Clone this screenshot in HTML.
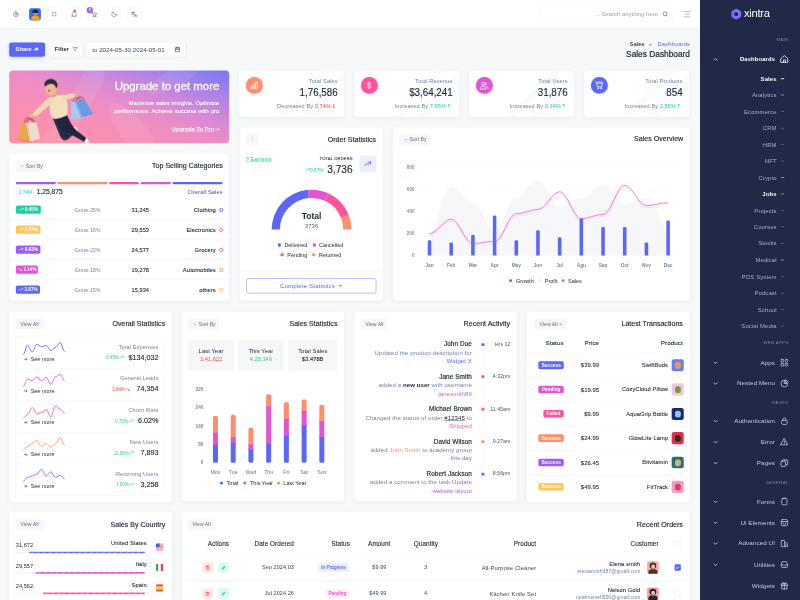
<!DOCTYPE html>
<html lang="en" dir="rtl">
<head>
<meta charset="utf-8">
<title>Sales Dashboard</title>
<style>
*{box-sizing:border-box}
html,body{margin:0;padding:0}
body{width:800px;height:600px;overflow:hidden;position:relative;background:#f7f8fa;font-family:"Liberation Sans",sans-serif}
#app{position:absolute;left:0;top:0;width:1920px;height:1440px;transform:scale(.4166667);transform-origin:0 0;background:#f7f8fa;color:#212b37;font-size:13.5px;line-height:1.5;overflow:hidden}
a{color:inherit;text-decoration:none}
.muted{color:#6e829f}
/* sidebar */
#side{position:absolute;right:0;top:0;width:240px;height:1440px;background:#202947;color:#a3aed1}
#side .logo{height:68px;border-bottom:1px solid rgba(255,255,255,.07);display:flex;align-items:center;justify-content:center;direction:ltr;gap:5px;padding-left:0px}
#side .logo b{font-weight:400;font-size:27px;color:#fff;letter-spacing:-.7px;line-height:1;position:relative;top:-2px}
.cat{position:absolute;right:28px;font-size:10.2px;letter-spacing:1px;color:#7b86a6;font-weight:400;line-height:12px;margin-right:-1px}
.mi{position:absolute;right:0;left:0;height:20px;line-height:20px;font-size:15px;letter-spacing:.2px;color:#c3cbe2}
.mi .t{position:absolute;right:60px;white-space:nowrap}
.mi svg.ic{position:absolute;right:26.5px;top:-1.5px;width:23px;height:23px;fill:none;stroke:#c3cbe2;stroke-width:1.6;stroke-linecap:round;stroke-linejoin:round}
.mi svg.ch{position:absolute;left:32px;top:5px;width:11px;height:11px;fill:none;stroke:#c3cbe2;stroke-width:2;stroke-linecap:round;stroke-linejoin:round}
.mi.on{color:#fff;font-weight:700;font-size:14.2px;margin-top:1.2px}
.mi.on svg.ic{stroke:#fff}
.si{position:absolute;right:0;left:0;height:18px;line-height:18px;font-size:14.2px;letter-spacing:.3px;color:#a3aed1;margin-top:.7px}
.si .t{position:absolute;right:56px;white-space:nowrap}
.si i{position:absolute;right:38.5px;top:8.4px;width:8px;height:1.2px;background:#8e9abf}
.si.on{color:#fff;font-weight:700}
.si.on i{background:#fff}
/* header */
#hdr{position:absolute;left:0;top:0;width:1680px;height:67.5px;background:#fff;border-bottom:1px solid #e9ebf3;box-shadow:0 2px 5px rgba(20,30,60,.035)}
.hb{position:absolute;top:18px;width:32px;height:32px;border:1px solid #e9edf6;border-radius:5px;background:#fff}
.hb svg{position:absolute;left:7px;top:7px;width:16px;height:16px;fill:none;stroke:#61748f;stroke-width:1.4;stroke-linecap:round;stroke-linejoin:round}
#search{position:absolute;left:1296px;top:16px;width:321px;height:36px;border:1px solid #e9edf6;border-radius:6px;background:#fff;font-size:14px;letter-spacing:.1px;color:#97a2b8;line-height:34px;padding:0 37px 0 0}
#search svg{position:absolute;right:12px;top:10px;width:14px;height:14px;fill:none;stroke:#5b6b89;stroke-width:1.8}
/* cards */
.card{position:absolute;background:#fff;border-radius:9px;box-shadow:0 3px 10px rgba(30,40,70,.045)}
.ct{position:absolute;right:20px;top:19px;font-size:17px;font-weight:400;color:#212b37;line-height:24px;white-space:nowrap;-webkit-text-stroke:.35px #212b37}
.btnl{position:absolute;text-align:center;background:#f6f7f9;border-radius:4px;font-size:12.3px;letter-spacing:.1px;color:#5f6e88;white-space:nowrap}
.sec{position:absolute}
.x{position:absolute;white-space:nowrap;letter-spacing:.3px}
.b{position:absolute}
.chv{width:10px;height:10px;fill:none;stroke:#6e829f;stroke-width:1.2;margin-left:3px;margin-right:4px;vertical-align:-1px}
.tr{width:12px;height:9px;fill:none;stroke:currentColor;stroke-width:1.6;vertical-align:0}
.tr.w{stroke:#fff}
</style>
</head>
<body>
<div id="app">

<!-- ===== HEADER ===== -->
<div id="hdr">
 <div class="hb" style="left:22px"><svg viewBox="0 0 16 16"><circle cx="8" cy="8" r="2.2"/><path d="M8 1.6l1.2 1.5 1.9-.4.6 1.8 1.8.6-.4 1.9L14.4 8l-1.3 1.2.4 1.9-1.8.6-.6 1.8-1.9-.4L8 14.4l-1.2-1.3-1.9.4-.6-1.8-1.8-.6.4-1.9L1.6 8l1.3-1.2-.4-1.9 1.8-.6.6-1.8 1.9.4z"/></svg></div>
 <div class="hb" id="avatar" style="left:70px;top:19.5px;width:28px;height:29px;border:0;background:#2f6df6;overflow:hidden"><span style="position:absolute;left:9px;top:5px;width:12px;height:13px;border-radius:50%;background:#c98a5a"></span><span style="position:absolute;left:8px;top:3px;width:14px;height:8px;border-radius:7px 7px 2px 2px;background:#23252f"></span><span style="position:absolute;left:5px;top:18px;width:20px;height:14px;border-radius:8px 8px 0 0;background:#f4a21c"></span></div>
 <div class="hb" style="left:114px"><svg viewBox="0 0 16 16"><path d="M4 6.300V4h2.300M9.700 4H12v2.300M12 9.700V12H9.700M6.300 12H4V9.700"/></svg></div>
 <div class="hb" style="left:162px"><svg viewBox="0 0 16 16"><path d="M3.5 11.5V7a4.5 4.5 0 019 0v4.5l1 1.2h-11zM6.5 14.2a1.6 1.6 0 003 0"/></svg><span style="position:absolute;left:13px;top:4px;width:7px;height:7px;border-radius:50%;background:#fe549b"></span></div>
 <div class="hb" style="left:210px"><svg viewBox="0 0 16 16"><path d="M1.5 2.5h2l1.8 8h7l1.4-5.5H4.6"/><circle cx="6.3" cy="13" r="1"/><circle cx="11.3" cy="13" r="1"/></svg><span style="position:absolute;left:-3px;top:-2px;width:15px;height:15px;border-radius:50%;background:#9e5cf7;color:#fff;font-size:9px;line-height:15px;text-align:center;font-weight:700">5</span></div>
 <div class="hb" style="left:258px"><svg viewBox="0 0 16 16"><path d="M13.5 9.6A5.8 5.8 0 016.4 2.5a5.8 5.8 0 107.1 7.1z"/></svg></div>
 <div class="hb" style="left:306px"><svg viewBox="0 0 16 16"><path d="M2 4h7M5.5 2.5V4M3.2 9.5C5.5 8.5 7 6.5 7.5 4M3.5 5.5c.6 1.6 2 3.2 4 4M8.5 14l2.7-6.5L14 14M9.4 12h3.7"/></svg></div>
 <div id="search">Search anything here ...<svg viewBox="0 0 14 14"><circle cx="6.3" cy="6.3" r="4.6"/><path d="M9.8 9.8l2.8 2.8"/></svg></div>
 <svg style="position:absolute;left:1640px;top:25.500px;width:17px;height:16px;fill:none;stroke:#8793ab;stroke-width:1.500;stroke-linecap:round" viewBox="0 0 17 16"><path d="M1 1.500h15M5 8h11M1 14.500h15"/></svg>
</div>

<!-- ===== SIDEBAR ===== -->
<div id="side">
 <div class="logo"><svg width="28" height="28" viewBox="0 0 34 34"><defs><linearGradient id="lg" x1="0" y1="0" x2="1" y2="1"><stop offset="0" stop-color="#6a78ff"/><stop offset="1" stop-color="#a457f5"/></linearGradient><linearGradient id="lg2" x1="1" y1="0" x2="0" y2="1"><stop offset="0" stop-color="#8a6bff"/><stop offset="1" stop-color="#5c67f7"/></linearGradient></defs><g fill="none" stroke-linejoin="round"><polygon points="17,5.500 27,11.250 27,22.750 17,28.500 7,22.750 7,11.250" stroke="url(#lg)" stroke-width="8"/><polygon points="17,5.500 27,11.250 27,22.750 17,28.500 7,22.750 7,11.250" transform="rotate(30 17 17)" stroke="url(#lg2)" stroke-width="7" opacity=".55"/><circle cx="17" cy="17" r="8.500" stroke="#b79bff" stroke-width="1.200" opacity=".6"/></g></svg><b>xintra</b></div>
 <div id="menu">
<div class="cat" style="top:88.8px">MAIN</div>
<div class="mi on" style="top:130.4px"><svg class="ic" viewBox="0 0 20 20"><path d="M3 9.2L10 3l7 6.2V17H3z"/><path d="M8 17v-5h4v5"/></svg><span class="t">Dashboards</span><svg class="ch" viewBox="0 0 11 11"><path d="M1.5 7.500L5.500 3.500l4 4"/></svg></div>
<div class="si on" style="top:179.4px"><i></i><span class="t">Sales</span></div>
<div class="si" style="top:218.4px"><i></i><span class="t">Analytics</span></div>
<div class="si" style="top:258.0px"><i></i><span class="t">Ecommerce</span></div>
<div class="si" style="top:297.6px"><i></i><span class="t">CRM</span></div>
<div class="si" style="top:337.2px"><i></i><span class="t">HRM</span></div>
<div class="si" style="top:376.8px"><i></i><span class="t">NFT</span></div>
<div class="si" style="top:416.4px"><i></i><span class="t">Crypto</span></div>
<div class="si on" style="top:456.0px"><i></i><span class="t">Jobs</span></div>
<div class="si" style="top:495.6px"><i></i><span class="t">Projects</span></div>
<div class="si" style="top:535.2px"><i></i><span class="t">Courses</span></div>
<div class="si" style="top:574.8px"><i></i><span class="t">Stocks</span></div>
<div class="si" style="top:614.4px"><i></i><span class="t">Medical</span></div>
<div class="si" style="top:654.0px"><i></i><span class="t">POS System</span></div>
<div class="si" style="top:693.6px"><i></i><span class="t">Podcast</span></div>
<div class="si" style="top:733.2px"><i></i><span class="t">School</span></div>
<div class="si" style="top:772.8px"><i></i><span class="t">Social Media</span></div>
<div class="cat" style="top:817.2px">WEB APPS</div>
<div class="mi" style="top:860.0px"><svg class="ic" viewBox="0 0 20 20"><rect x="3" y="3" width="5.5" height="5.5" rx="1.5"/><rect x="11.5" y="3" width="5.5" height="5.5" rx="2.7"/><rect x="3" y="11.5" width="5.5" height="5.5" rx="1.5"/><rect x="11.5" y="11.5" width="5.5" height="5.5" rx="1.5"/></svg><span class="t">Apps</span><svg class="ch" viewBox="0 0 11 11"><path d="M1.500 3.500l4 4 4-4"/></svg></div>
<div class="mi" style="top:910.4px"><svg class="ic" viewBox="0 0 20 20"><path d="M10 3a7 7 0 107 7h-7z"/><path d="M12.5 2.6a6 6 0 014.9 4.9h-4.9z"/></svg><span class="t">Nested Menu</span><svg class="ch" viewBox="0 0 11 11"><path d="M1.500 3.500l4 4 4-4"/></svg></div>
<div class="cat" style="top:960.0px">PAGES</div>
<div class="mi" style="top:1000.4px"><svg class="ic" viewBox="0 0 20 20"><rect x="4" y="8.5" width="12" height="8.5" rx="2.5"/><path d="M6.8 8.5V6.5a3.2 3.2 0 016.4 0v2"/></svg><span class="t">Authentication</span><svg class="ch" viewBox="0 0 11 11"><path d="M1.500 3.500l4 4 4-4"/></svg></div>
<div class="mi" style="top:1050.8px"><svg class="ic" viewBox="0 0 20 20"><path d="M10 3.2l7.3 12.8H2.7z"/><path d="M10 8.2v3.6M10 13.8v.2"/></svg><span class="t">Error</span><svg class="ch" viewBox="0 0 11 11"><path d="M1.500 3.500l4 4 4-4"/></svg></div>
<div class="mi" style="top:1101.2px"><svg class="ic" viewBox="0 0 20 20"><rect x="3" y="6" width="9.5" height="11" rx="1.5"/><path d="M6.5 6V4.5A1.5 1.5 0 018 3h7.5A1.5 1.5 0 0117 4.500v8A1.5 1.5 0 0115.500 14H12.500"/><path d="M9.5 3l3 3"/></svg><span class="t">Pages</span><svg class="ch" viewBox="0 0 11 11"><path d="M1.500 3.500l4 4 4-4"/></svg></div>
<div class="cat" style="top:1152.0px">GENERAL</div>
<div class="mi" style="top:1193.6px"><svg class="ic" viewBox="0 0 20 20"><rect x="4.5" y="4" width="11" height="13" rx="2"/><path d="M7.5 4V3h5v1"/></svg><span class="t">Forms</span><svg class="ch" viewBox="0 0 11 11"><path d="M1.500 3.500l4 4 4-4"/></svg></div>
<div class="mi" style="top:1244.0px"><svg class="ic" viewBox="0 0 20 20"><rect x="3.5" y="3.5" width="13" height="13" rx="2"/><path d="M3.5 7.5h13M7 10.500a3 3 0 006 0"/></svg><span class="t">Ui Elements</span><svg class="ch" viewBox="0 0 11 11"><path d="M1.500 3.500l4 4 4-4"/></svg></div>
<div class="mi" style="top:1294.4px"><svg class="ic" viewBox="0 0 20 20"><rect x="3.5" y="3.5" width="7" height="13" rx="1.5"/><path d="M10.500 8.500h4.500l1.500 2v6h-6"/><path d="M13 12.500v2"/></svg><span class="t">Advanced UI</span><svg class="ch" viewBox="0 0 11 11"><path d="M1.500 3.500l4 4 4-4"/></svg></div>
<div class="mi" style="top:1344.8px"><svg class="ic" viewBox="0 0 20 20"><path d="M3.500 11l2-6.500h9l2 6.500v3.500a2 2 0 01-2 2h-9a2 2 0 01-2-2z"/><path d="M3.500 11h3.800a2.800 2.800 0 005.400 0h3.800"/></svg><span class="t">Utilities</span><svg class="ch" viewBox="0 0 11 11"><path d="M1.500 3.500l4 4 4-4"/></svg></div>
<div class="mi" style="top:1395.0px"><svg class="ic" viewBox="0 0 20 20"><rect x="3" y="6.500" width="14" height="3.500" rx="1"/><path d="M4.500 10v7h11v-7M10 6.500V17M10 6.500C8 6.500 6 5.500 6.500 4s3 .2 3.500 2.500c.5-2.300 3-4 3.500-2.500s-1.500 2.500-3.500 2.500z"/></svg><span class="t">Widgets</span></div>
</div>
</div>

<!-- ===== CONTENT ===== -->
<div class="sec" style="left:0.0px;top:68.2px;width:1680.0px;height:99.8px;">
<div class="b" style="left:22.2px;top:33.8px;width:85.8px;height:34.2px;background:#5c67f7;border-radius:5px;color:#fff;font-size:13.5px;font-weight:700;letter-spacing:.2px;line-height:34px;text-align:center;direction:ltr;box-shadow:0 3px 8px rgba(92,103,247,.25)">Share <svg style="width:13px;height:11px;vertical-align:-1px;fill:#fff" viewBox="0 0 13 11"><path d="M7.500 0L13 4.800 7.500 9.500V6.700C4 6.500 1.800 7.800 0 10.500 .5 6 3 3.300 7.500 2.900z"/></svg></div>
<div class="b" style="left:120.0px;top:33.8px;width:78.0px;height:34.2px;background:#fff;border-radius:5px;color:#212b37;font-size:13.5px;font-weight:700;letter-spacing:.2px;line-height:34px;text-align:center;direction:ltr;box-shadow:0 2px 6px rgba(10,10,10,.04)">Filter <svg style="width:13px;height:10px;margin-left:4px;fill:none;stroke:#6e829f;stroke-width:1.500" viewBox="0 0 13 10"><path d="M1 1h11L8 5.500v3.500L5 7.500v-2z"/></svg></div>
<div class="b" style="left:208.2px;top:33.8px;width:235.8px;height:34.2px;background:#fff;border-radius:5px;box-shadow:0 2px 6px rgba(10,10,10,.04)"><span class="x" style="left:13px;top:8px;font-size:14.8px;line-height:18px;letter-spacing:.1px;color:#3b4758">2024-05-01 to 2024-05-30</span><i style="position:absolute;left:198.500px;top:0;width:1px;height:34px;background:#f0f2f6"></i><svg style="position:absolute;left:211px;top:10px;width:14px;height:14px;fill:none;stroke:#212b37;stroke-width:1.500" viewBox="0 0 14 14"><rect x="1.500" y="2.500" width="11" height="10" rx="1.500"/><path d="M1.500 6h11M4.500 1v3M9.500 1v3"/></svg></div>
<span class="x " style="top:28.4px;font-size:14px;line-height:18px;color:#5c67f7;letter-spacing:0.25px;right:24.0px;">Dashboards</span>
<span class="x " style="top:29.4px;font-size:13px;line-height:16px;color:#6e829f;letter-spacing:0px;left:1261.4px;width:600px;text-align:center;">»</span>
<span class="x " style="top:28.4px;font-size:14px;line-height:18px;letter-spacing:0.2px;right:133.2px;-webkit-text-stroke:.15px #212b37;">Sales</span>
<span class="x " style="top:49.9px;font-size:20px;line-height:25px;letter-spacing:0px;right:24.0px;-webkit-text-stroke:.5px #212b37;">Sales Dashboard</span>
</div>
<div class="card" style="left:21.6px;top:169.0px;width:528.7px;height:175.0px;background:linear-gradient(to bottom left,#7577f5 0%,#a982ea 18%,#d98ad4 38%,#ee8dc4 52%,#fa8fb2 75%,#ff90a4 100%);overflow:hidden;box-shadow:none">
<svg style="position:absolute;left:0;top:0;width:529px;height:175px;direction:ltr" viewBox="0 0 529 175"><g opacity=".08" fill="#fff"><ellipse cx="190" cy="40" rx="26" ry="75" transform="rotate(28 190 40)"/><ellipse cx="300" cy="150" rx="30" ry="90" transform="rotate(-38 300 150)"/><ellipse cx="395" cy="20" rx="22" ry="70" transform="rotate(62 395 20)"/><ellipse cx="120" cy="150" rx="22" ry="70" transform="rotate(50 120 150)"/></g><polygon points="31.4,123.8 42.2,122.5 53.5,171.3 19.8,164.0" fill="#eaa64b" /><polygon points="19.8,164.0 53.5,171.3 52.8,173.3 20.5,166.0" fill="#d18f38" /><polygon points="40.9,126.4 64.7,123.1 74.6,164.0 49.5,170.6" fill="#efdccf" /><polygon points="40.9,126.4 44.2,125.8 52.8,170.0 49.5,170.6" fill="#e0c7b6" /><path d="M36.3 123.8Q44.6 101.3 57.8 124.4" fill="none" stroke="#6b2a45" stroke-width="1.600"/><path d="M41.2 125.8Q49.5 104.6 62.7 124.4" fill="none" stroke="#6b2a45" stroke-width="1.600"/><polygon points="148.5,75.6 165.0,73.0 180.2,114.5 148.5,116.9" fill="#a8cbe9" /><polygon points="157.1,73.6 180.2,68.3 201.6,104.6 172.3,113.2" fill="#6d9be3" /><polygon points="157.1,73.6 160.4,73.0 175.6,112.2 172.3,113.2" fill="#8db5ec" /><path d="M153.5 74.9Q158.4 56.8 171.6 71.6" fill="none" stroke="#6b2a45" stroke-width="1.600"/><path d="M160.1 73.6Q166.7 55.1 179.8 69.0" fill="none" stroke="#6b2a45" stroke-width="1.600"/><ellipse cx="159.1" cy="140.9" rx="4.500" ry="7" transform="rotate(-35 159.1 140.9)" fill="#f4f4f6"/><ellipse cx="184.8" cy="168.0" rx="5" ry="8" transform="rotate(-30 184.8 168.0)" fill="#f4f4f6"/><path d="M104.9 115.2L132.0 112.9L142.6 153.5L157.7 139.3L162.4 145.9L140.2 165.7Q130.3 170.6 123.8 160.7Z" fill="#262b45" /><path d="M110.6 113.9L139.3 107.9Q148.5 131.0 161.7 144.2L184.8 162.4L179.8 171.3L155.1 157.4Q132.0 147.5 118.8 134.3Z" fill="#20243c" /><path d="M95.0 66.7Q108.9 56.8 130.3 59.4Q138.6 65.0 140.2 81.5L140.6 103.0Q135.3 112.9 110.6 116.5Q99.0 112.9 98.3 101.3Z" fill="#f2dfbb" /><path d="M96.4 65.0Q105.6 70.0 100.7 79.9L66.0 109.6Q57.8 111.2 55.4 104.0L82.5 76.6Z" fill="#efd9b0" /><circle cx="52.1" cy="108.6" r="5.500" fill="#efb08a"/><path d="M127.1 59.4L155.1 54.5Q160.1 58.4 156.8 64.4L132.0 72.3Z" fill="#efd9b0" /><circle cx="160.1" cy="59.1" r="5.500" fill="#efb08a"/><ellipse cx="104.9" cy="58.4" rx="8" ry="6" fill="#e6a27c"/><ellipse cx="100.7" cy="43.6" rx="14.500" ry="16.500" fill="#f2b793"/><circle cx="114.2" cy="44.6" r="3.500" fill="#eaa882"/><path d="M84.5 36.0C82.5 17.2 113.9 13.9 116.2 35.3Q115.5 41.9 112.2 41.3Q110.6 32.0 99.0 32.0Q90.8 32.7 88.4 38.0Z" fill="#2a2c3a" /><ellipse cx="95.7" cy="48.5" rx="3" ry="2.200" fill="#b5524f"/></svg>
<span class="x " style="top:21.9px;font-size:27.4px;line-height:34px;color:#fff;letter-spacing:0px;right:23.8px;-webkit-text-stroke:.65px #fff;">Upgrade to get more</span>
<span class="x " style="top:68.3px;font-size:14.2px;line-height:18px;color:#fff;letter-spacing:0.15px;right:23.8px;-webkit-text-stroke:.2px #fff;">Maximize sales insights. Optimize</span>
<span class="x " style="top:89.2px;font-size:14.2px;line-height:18px;color:#fff;letter-spacing:0.15px;right:23.8px;-webkit-text-stroke:.2px #fff;">performance. Achieve success with pro.</span>
<span class="x " style="top:133.1px;font-size:13.5px;line-height:17px;color:#fff;font-weight:700;letter-spacing:0.1px;right:23.3px;text-decoration:underline;direction:ltr;">Upgrade To Pro<svg style="width:11px;height:9px;margin-left:2px;vertical-align:0;fill:none;stroke:currentColor;stroke-width:1.400" viewBox="0 0 11 9"><path d="M0 4.500h10M6.500 1l3.500 3.500L6.500 8"/></svg></span>
</div>
<div class="card" style="left:21.6px;top:369.1px;width:528.7px;height:353.3px;">
<div class="ct" style="top:17.3px;right:15.4px">Top Selling Categories</div>
<div class="btnl" style="left:16.2px;top:16.1px;width:72.6px;height:27.6px;line-height:27.6px">Sort By<svg class="chv" viewBox="0 0 10 10"><path d="M2 3.500l3 3 3-3"/></svg></div>
<div class="b" style="left:16.2px;top:68.4px;width:96.1px;height:5.0px;background:#9e5cf7;border-radius:3px"></div>
<div class="b" style="left:115.9px;top:68.4px;width:120.5px;height:5.0px;background:#ff8e6f;border-radius:3px"></div>
<div class="b" style="left:240.0px;top:68.4px;width:71.8px;height:5.0px;background:#fe549b;border-radius:3px"></div>
<div class="b" style="left:316.8px;top:68.4px;width:71.3px;height:5.0px;background:#e354d4;border-radius:3px"></div>
<div class="b" style="left:392.4px;top:68.4px;width:120.2px;height:5.0px;background:#5c67f7;border-radius:3px"></div>
<span class="x " style="top:83.4px;font-size:13.5px;line-height:17px;color:#4a5668;right:16.1px;">Overall Sales</span>
<span class="x " style="top:82.2px;font-size:16px;line-height:20px;letter-spacing:0px;left:66.6px;-webkit-text-stroke:.3px #212b37;">1,25,875</span>
<span class="x " style="top:85.6px;font-size:11.5px;line-height:14px;color:#21ce9e;letter-spacing:0px;left:23.5px;direction:ltr;">2.74%<b style="font-weight:400;font-size:10px">↑</b></span>
<div class="b" style="left:504.5px;top:129.8px;width:10.1px;height:10.1px;border:2px solid #5c67f7;border-radius:50%"></div>
<span class="x " style="top:125.7px;font-size:13.8px;line-height:17px;right:32.2px;-webkit-text-stroke:.25px #212b37;">Clothing</span>
<span class="x " style="top:125.7px;font-size:13.5px;line-height:17px;letter-spacing:0.1px;right:192.7px;-webkit-text-stroke:.25px #212b37;">31,245</span>
<span class="x " style="top:128.1px;font-size:12.2px;line-height:15px;color:#6e829f;letter-spacing:0.2px;left:157.7px;">Gross 25%</span>
<div class="b" style="left:16.2px;top:124.3px;width:60.5px;height:19.7px;background:#21ce9e;border-radius:4px;color:#fff;font-size:11px;font-weight:700;line-height:20px;text-align:center;direction:ltr"><svg class="tr w" viewBox="0 0 14 10"><path d="M1 8.500l4-4 2.500 2.500L13 1.500M9 1.500h4v4"/></svg> 0.45%</div>
<div class="b" style="left:0.0px;top:157.7px;width:528.7px;height:1.0px;background:#eef1f6"></div>
<div class="b" style="left:504.5px;top:177.8px;width:10.1px;height:10.1px;border:2px solid #e354d4;border-radius:50%"></div>
<span class="x " style="top:173.7px;font-size:13.8px;line-height:17px;right:32.2px;-webkit-text-stroke:.25px #212b37;">Electronics</span>
<span class="x " style="top:173.7px;font-size:13.5px;line-height:17px;letter-spacing:0.1px;right:192.7px;-webkit-text-stroke:.25px #212b37;">29,553</span>
<span class="x " style="top:176.1px;font-size:12.2px;line-height:15px;color:#6e829f;letter-spacing:0.2px;left:157.7px;">Gross 16%</span>
<div class="b" style="left:16.2px;top:172.3px;width:58.8px;height:19.7px;background:#ffc658;border-radius:4px;color:#fff;font-size:11px;font-weight:700;line-height:20px;text-align:center;direction:ltr"><svg class="tr w" viewBox="0 0 14 10"><path d="M1 8.500l4-4 2.500 2.500L13 1.500M9 1.500h4v4"/></svg> 0.27%</div>
<div class="b" style="left:0.0px;top:205.7px;width:528.7px;height:1.0px;background:#eef1f6"></div>
<div class="b" style="left:504.5px;top:225.8px;width:10.1px;height:10.1px;border:2px solid #fe549b;border-radius:50%"></div>
<span class="x " style="top:221.7px;font-size:13.8px;line-height:17px;right:32.2px;-webkit-text-stroke:.25px #212b37;">Grocery</span>
<span class="x " style="top:221.7px;font-size:13.5px;line-height:17px;letter-spacing:0.1px;right:192.7px;-webkit-text-stroke:.25px #212b37;">24,577</span>
<span class="x " style="top:224.1px;font-size:12.2px;line-height:15px;color:#6e829f;letter-spacing:0.2px;left:157.7px;">Gross 22%</span>
<div class="b" style="left:16.2px;top:220.3px;width:59.5px;height:19.7px;background:#9e5cf7;border-radius:4px;color:#fff;font-size:11px;font-weight:700;line-height:20px;text-align:center;direction:ltr"><svg class="tr w" viewBox="0 0 14 10"><path d="M1 8.500l4-4 2.500 2.500L13 1.500M9 1.500h4v4"/></svg> 0.63%</div>
<div class="b" style="left:0.0px;top:253.7px;width:528.7px;height:1.0px;background:#eef1f6"></div>
<div class="b" style="left:504.5px;top:273.8px;width:10.1px;height:10.1px;border:2px solid #ff8e6f;border-radius:50%"></div>
<span class="x " style="top:269.7px;font-size:13.8px;line-height:17px;right:32.2px;-webkit-text-stroke:.25px #212b37;">Automobiles</span>
<span class="x " style="top:269.7px;font-size:13.5px;line-height:17px;letter-spacing:0.1px;right:192.7px;-webkit-text-stroke:.25px #212b37;">19,278</span>
<span class="x " style="top:272.1px;font-size:12.2px;line-height:15px;color:#6e829f;letter-spacing:0.2px;left:157.7px;">Gross 18%</span>
<div class="b" style="left:16.2px;top:268.3px;width:53.3px;height:19.7px;background:#e354d4;border-radius:4px;color:#fff;font-size:11px;font-weight:700;line-height:20px;text-align:center;direction:ltr"><svg class="tr w" viewBox="0 0 14 10"><path d="M1 1.500l4 4 2.500-2.500L13 8.500M9 8.500h4v-4"/></svg> 1.14%</div>
<div class="b" style="left:0.0px;top:301.7px;width:528.7px;height:1.0px;background:#eef1f6"></div>
<div class="b" style="left:504.5px;top:321.8px;width:10.1px;height:10.1px;border:2px solid #ffc658;border-radius:50%"></div>
<span class="x " style="top:317.7px;font-size:13.8px;line-height:17px;right:32.2px;-webkit-text-stroke:.25px #212b37;">others</span>
<span class="x " style="top:317.7px;font-size:13.5px;line-height:17px;letter-spacing:0.1px;right:192.7px;-webkit-text-stroke:.25px #212b37;">15,934</span>
<span class="x " style="top:320.1px;font-size:12.2px;line-height:15px;color:#6e829f;letter-spacing:0.2px;left:157.7px;">Gross 15%</span>
<div class="b" style="left:16.2px;top:316.3px;width:58.3px;height:19.7px;background:#5c67f7;border-radius:4px;color:#fff;font-size:11px;font-weight:700;line-height:20px;text-align:center;direction:ltr"><svg class="tr w" viewBox="0 0 14 10"><path d="M1 8.500l4-4 2.500 2.500L13 1.500M9 1.500h4v4"/></svg> 3.87%</div>
</div>
<div class="card" style="left:574.2px;top:169.0px;width:252.6px;height:111.6px;background:#fff linear-gradient(135deg,rgba(255,255,255,0) 55%,rgba(240,242,247,.3) 55%,rgba(240,242,247,.3) 62%,rgba(255,255,255,0) 62%,rgba(255,255,255,0) 70%,rgba(240,242,247,.3) 70%,rgba(240,242,247,.3) 80%,rgba(255,255,255,0) 80%);">
<div class="b" style="left:16.3px;top:16.3px;width:40.1px;height:40.1px;background:#ff8e6f;border-radius:50%;box-shadow:0 2px 5px #ff8e6f33"><svg viewBox="0 0 20 20" style="position:absolute;left:7px;top:7px;width:26px;height:26px;fill:none;stroke:#fff;stroke-width:1.350;stroke-linecap:round;stroke-linejoin:round"><rect x="4" y="10.500" width="3.300" height="5.500" rx="1"/><rect x="8.350" y="7.800" width="3.300" height="8.200" rx="1"/><rect x="12.700" y="4.500" width="3.300" height="11.500" rx="1"/></svg></div>
<span class="x " style="top:17.7px;font-size:13.5px;line-height:17px;color:#6e829f;right:16.3px;">Total Sales</span>
<span class="x " style="top:39.0px;font-size:23.5px;line-height:29px;letter-spacing:0px;right:16.3px;-webkit-text-stroke:.3px #212b37;transform:scaleY(1.16);transform-origin:50% 80%;">1,76,586</span>
<span class="x " style="top:77.4px;font-size:13.4px;line-height:17px;color:#6e829f;letter-spacing:0.2px;right:21.4px;direction:ltr;">Decreased By <span style="color:#fb4242">0.74%</span><svg style="width:8px;height:12px;margin-left:3px;vertical-align:-1px;fill:none;stroke:#fb4242;stroke-width:1.500" viewBox="0 0 8 12"><path d="M4 1v9.500M1 7.500l3 3 3-3"/></svg></span>
</div>
<div class="card" style="left:850.2px;top:169.0px;width:252.6px;height:111.6px;background:#fff linear-gradient(135deg,rgba(255,255,255,0) 55%,rgba(240,242,247,.3) 55%,rgba(240,242,247,.3) 62%,rgba(255,255,255,0) 62%,rgba(255,255,255,0) 70%,rgba(240,242,247,.3) 70%,rgba(240,242,247,.3) 80%,rgba(255,255,255,0) 80%);">
<div class="b" style="left:16.3px;top:16.3px;width:40.1px;height:40.1px;background:#fe549b;border-radius:50%;box-shadow:0 2px 5px #fe549b33"><svg viewBox="0 0 20 20" style="position:absolute;left:7px;top:7px;width:26px;height:26px;fill:none;stroke:#fff;stroke-width:1.350;stroke-linecap:round;stroke-linejoin:round"><path d="M10 3.500v13M13 6.500c-.5-1-1.700-1.500-3-1.500-1.800 0-3 .9-3 2.300 0 3 6.200 1.600 6.200 4.700 0 1.400-1.300 2.400-3.200 2.400-1.500 0-2.800-.6-3.300-1.700"/></svg></div>
<span class="x " style="top:17.7px;font-size:13.5px;line-height:17px;color:#6e829f;right:16.3px;">Total Revenue</span>
<span class="x " style="top:39.0px;font-size:23.5px;line-height:29px;letter-spacing:0px;right:16.3px;-webkit-text-stroke:.3px #212b37;transform:scaleY(1.16);transform-origin:50% 80%;">$3,64,241</span>
<span class="x " style="top:77.4px;font-size:13.4px;line-height:17px;color:#6e829f;letter-spacing:0.2px;right:21.4px;direction:ltr;">Increased By <span style="color:#21ce9e">7.66%</span><svg style="width:8px;height:12px;margin-left:3px;vertical-align:-1px;fill:none;stroke:#21ce9e;stroke-width:1.500" viewBox="0 0 8 12"><path d="M4 11V1.500M1 4.500l3-3 3 3"/></svg></span>
</div>
<div class="card" style="left:1126.2px;top:169.0px;width:252.6px;height:111.6px;background:#fff linear-gradient(135deg,rgba(255,255,255,0) 55%,rgba(240,242,247,.3) 55%,rgba(240,242,247,.3) 62%,rgba(255,255,255,0) 62%,rgba(255,255,255,0) 70%,rgba(240,242,247,.3) 70%,rgba(240,242,247,.3) 80%,rgba(255,255,255,0) 80%);">
<div class="b" style="left:16.3px;top:16.3px;width:40.1px;height:40.1px;background:#e354d4;border-radius:50%;box-shadow:0 2px 5px #e354d433"><svg viewBox="0 0 20 20" style="position:absolute;left:7px;top:7px;width:26px;height:26px;fill:none;stroke:#fff;stroke-width:1.350;stroke-linecap:round;stroke-linejoin:round"><circle cx="8" cy="7" r="2.800"/><path d="M2.800 16c.3-3 2.300-4.500 5.200-4.500s4.900 1.500 5.200 4.500zM12.500 4.400a2.800 2.800 0 010 5.300M14.500 11.800c1.700.6 2.600 2 2.800 4.200"/></svg></div>
<span class="x " style="top:17.7px;font-size:13.5px;line-height:17px;color:#6e829f;right:16.3px;">Total Users</span>
<span class="x " style="top:39.0px;font-size:23.5px;line-height:29px;letter-spacing:0px;right:16.3px;-webkit-text-stroke:.3px #212b37;transform:scaleY(1.16);transform-origin:50% 80%;">31,876</span>
<span class="x " style="top:77.4px;font-size:13.4px;line-height:17px;color:#6e829f;letter-spacing:0.2px;right:21.4px;direction:ltr;">Increased By <span style="color:#21ce9e">0.34%</span><svg style="width:8px;height:12px;margin-left:3px;vertical-align:-1px;fill:none;stroke:#21ce9e;stroke-width:1.500" viewBox="0 0 8 12"><path d="M4 11V1.500M1 4.500l3-3 3 3"/></svg></span>
</div>
<div class="card" style="left:1402.2px;top:169.0px;width:252.6px;height:111.6px;background:#fff linear-gradient(135deg,rgba(255,255,255,0) 55%,rgba(240,242,247,.3) 55%,rgba(240,242,247,.3) 62%,rgba(255,255,255,0) 62%,rgba(255,255,255,0) 70%,rgba(240,242,247,.3) 70%,rgba(240,242,247,.3) 80%,rgba(255,255,255,0) 80%);">
<div class="b" style="left:16.3px;top:16.3px;width:40.1px;height:40.1px;background:#5c67f7;border-radius:50%;box-shadow:0 2px 5px #5c67f733"><svg viewBox="0 0 20 20" style="position:absolute;left:7px;top:7px;width:26px;height:26px;fill:none;stroke:#fff;stroke-width:1.350;stroke-linecap:round;stroke-linejoin:round"><path d="M3 3.500h2l1.800 8.500h8l1.400-6H6"/><circle cx="8" cy="15" r="1.200"/><circle cx="13.500" cy="15" r="1.200"/><path d="M8 3.500h7v2.500"/></svg></div>
<span class="x " style="top:17.7px;font-size:13.5px;line-height:17px;color:#6e829f;right:16.3px;">Total Products</span>
<span class="x " style="top:39.0px;font-size:23.5px;line-height:29px;letter-spacing:0px;right:16.3px;-webkit-text-stroke:.3px #212b37;transform:scaleY(1.16);transform-origin:50% 80%;">854</span>
<span class="x " style="top:77.4px;font-size:13.4px;line-height:17px;color:#6e829f;letter-spacing:0.2px;right:21.4px;direction:ltr;">Increased By <span style="color:#21ce9e">2.56%</span><svg style="width:8px;height:12px;margin-left:3px;vertical-align:-1px;fill:none;stroke:#21ce9e;stroke-width:1.500" viewBox="0 0 8 12"><path d="M4 11V1.500M1 4.500l3-3 3 3"/></svg></span>
</div>
<div class="card" style="left:574.8px;top:306.0px;width:344.2px;height:415.4px;">
<div class="ct" style="top:16.6px;right:16.3px">Order Statistics</div>
<div class="b" style="left:15.6px;top:15.4px;width:29.3px;height:27.4px;background:#f6f7f9;border-radius:4px"><i style="position:absolute;left:14px;top:8px;width:2px;height:2px;background:#8c9bb5;border-radius:50%;box-shadow:0 4.500px 0 #8c9bb5,0 9px 0 #8c9bb5"></i></div>
<div class="b" style="left:288.7px;top:67.0px;width:39.1px;height:40.8px;background:#eceefe;border-radius:5px"><svg viewBox="0 0 16 12" style="position:absolute;left:11px;top:13px;width:17px;height:13px;fill:none;stroke:#5c67f7;stroke-width:2.100;stroke-linecap:round;stroke-linejoin:round"><path d="M1 10.500l4.500-4.500 3 3L14.500 2.500M10.500 2.500h4v4"/></svg></div>
<span class="x " style="top:69.8px;font-size:10px;line-height:12px;color:#3b4758;letter-spacing:0.25px;right:72.5px;-webkit-text-stroke:.3px #3b4758;">TOTAL ORDERS</span>
<span class="x " style="top:85.5px;font-size:24.5px;line-height:31px;letter-spacing:0px;right:72.5px;-webkit-text-stroke:.3px #212b37;">3,736</span>
<span class="x " style="top:95.0px;font-size:11.5px;line-height:14px;color:#21ce9e;letter-spacing:0px;right:142.3px;direction:ltr;"><svg class="tr" viewBox="0 0 14 10"><path d="M1 8.500l4-4 2.500 2.500L13 1.500M9 1.500h4v4"/></svg>0.57%</span>
<span class="x " style="top:67.8px;font-size:12.5px;line-height:16px;color:#21ce9e;letter-spacing:0.1px;left:15.8px;text-decoration:underline;">Earnings ?</span>
<svg style="position:absolute;left:0;top:0;width:344.2px;height:415.4px;direction:ltr"><path d="M77.0 245.0A95.8 95.8 0 0 1 164.5 149.6L166.2 169.2A76.1 76.1 0 0 0 96.7 245.0Z" fill="#5c67f7"/><path d="M164.5 149.6A95.8 95.8 0 0 1 212.8 158.0L204.6 175.9A76.1 76.1 0 0 0 166.2 169.2Z" fill="#e354d4"/><path d="M212.8 158.0A95.8 95.8 0 0 1 261.6 209.3L243.4 216.7A76.1 76.1 0 0 0 204.6 175.9Z" fill="#fe549b"/><path d="M261.6 209.3A95.8 95.8 0 0 1 268.6 245.0L248.9 245.0A76.1 76.1 0 0 0 243.4 216.7Z" fill="#ff8e6f"/><text x="172.8" y="219.4" text-anchor="middle" font-family="Liberation Sans,sans-serif" font-size="20.500" font-weight="700" fill="#212b37">Total</text><text x="172.8" y="241.4" text-anchor="middle" font-family="Liberation Sans,sans-serif" font-size="14.500" fill="#5b6677">3736</text></svg>
<div class="b" style="left:91.8px;top:278.0px;width:7.5px;height:7.5px;background:#5c67f7;border-radius:2.500px"></div>
<span class="x " style="top:273.8px;font-size:13px;line-height:16px;letter-spacing:0px;left:107.8px;direction:ltr;">Delivered</span>
<div class="b" style="left:175.8px;top:278.0px;width:7.5px;height:7.5px;background:#e354d4;border-radius:2.500px"></div>
<span class="x " style="top:273.8px;font-size:13px;line-height:16px;letter-spacing:0px;left:191.0px;direction:ltr;">Cancelled</span>
<div class="b" style="left:98.7px;top:301.8px;width:7.5px;height:7.5px;background:#fe549b;border-radius:2.500px"></div>
<span class="x " style="top:297.5px;font-size:13px;line-height:16px;letter-spacing:0px;left:114.7px;direction:ltr;">Pending</span>
<div class="b" style="left:174.1px;top:301.8px;width:7.5px;height:7.5px;background:#ff8e6f;border-radius:2.500px"></div>
<span class="x " style="top:297.5px;font-size:13px;line-height:16px;letter-spacing:0px;left:191.0px;direction:ltr;">Returned</span>
<div class="b" style="left:0.0px;top:345.4px;width:344.2px;height:1.0px;background:#eef1f6"></div>
<div class="b" style="left:15.8px;top:362.2px;width:312.0px;height:35.5px;border:1px solid #5c67f7;border-radius:5px;color:#5c67f7;font-size:14.800px;letter-spacing:.3px;line-height:33px;text-align:center;direction:ltr">Complete Statistics <svg style="width:11px;height:9px;margin-left:2px;vertical-align:0;fill:none;stroke:currentColor;stroke-width:1.400" viewBox="0 0 11 9"><path d="M0 4.500h10M6.500 1l3.500 3.500L6.500 8"/></svg></div>
</div>
<div class="card" style="left:942.7px;top:306.0px;width:713.3px;height:415.4px;">
<div class="ct" style="top:16.1px;right:16.3px">Sales Overview</div>
<div class="btnl" style="left:15.4px;top:15.8px;width:73.9px;height:27.6px;line-height:27.6px">Sort By<svg class="chv" viewBox="0 0 10 10"><path d="M2 3.500l3 3 3-3"/></svg></div>
<svg style="position:absolute;left:0;top:0;width:713.3px;height:415.4px;direction:ltr"><path d="M60.5 307.4H686.9" stroke="#e9edf3" stroke-width="1" stroke-dasharray="3 3" fill="none"/><text x="51.8" y="311.4" text-anchor="end" font-size="11" font-weight="700" fill="#8592ab" font-family="Liberation Sans,sans-serif">0</text><path d="M60.5 254.6H686.9" stroke="#e9edf3" stroke-width="1" stroke-dasharray="3 3" fill="none"/><text x="51.8" y="258.6" text-anchor="end" font-size="11" font-weight="700" fill="#8592ab" font-family="Liberation Sans,sans-serif">200</text><path d="M60.5 201.8H686.9" stroke="#e9edf3" stroke-width="1" stroke-dasharray="3 3" fill="none"/><text x="51.8" y="205.8" text-anchor="end" font-size="11" font-weight="700" fill="#8592ab" font-family="Liberation Sans,sans-serif">400</text><path d="M60.5 149.0H686.9" stroke="#e9edf3" stroke-width="1" stroke-dasharray="3 3" fill="none"/><text x="51.8" y="153.0" text-anchor="end" font-size="11" font-weight="700" fill="#8592ab" font-family="Liberation Sans,sans-serif">600</text><path d="M60.5 96.2H686.9" stroke="#e9edf3" stroke-width="1" stroke-dasharray="3 3" fill="none"/><text x="51.8" y="100.2" text-anchor="end" font-size="11" font-weight="700" fill="#8592ab" font-family="Liberation Sans,sans-serif">800</text><path d="M87.8 259.9C107.1 259.9 120.6 143.8 139.9 143.8C159.2 143.8 172.7 181.8 192.0 181.8C211.2 181.8 224.7 249.4 244.0 249.4C263.3 249.4 276.8 170.2 296.1 170.2C315.3 170.2 328.9 127.9 348.1 127.9C367.4 127.9 380.9 192.6 400.2 192.6C419.4 192.6 433.0 171.5 452.2 171.5C471.5 171.5 485.0 139.0 504.3 139.0C523.5 139.0 537.1 187.6 556.3 187.6C575.6 187.6 589.1 168.8 608.4 168.8C627.7 168.8 641.2 246.7 660.5 246.7L660.5 307.4L87.8 307.4Z" fill="#f7f7f9"/><path d="M87.8 259.9C107.1 259.9 120.6 143.8 139.9 143.8C159.2 143.8 172.7 181.8 192.0 181.8C211.2 181.8 224.7 249.4 244.0 249.4C263.3 249.4 276.8 170.2 296.1 170.2C315.3 170.2 328.9 127.9 348.1 127.9C367.4 127.9 380.9 192.6 400.2 192.6C419.4 192.6 433.0 171.5 452.2 171.5C471.5 171.5 485.0 139.0 504.3 139.0C523.5 139.0 537.1 187.6 556.3 187.6C575.6 187.6 589.1 168.8 608.4 168.8C627.7 168.8 641.2 246.7 660.5 246.7" fill="none" stroke="#f2f2f5" stroke-width="1.500"/><path d="M83.5 307.4V273.5a3 3 0 0 1 3-3h2.600a3 3 0 0 1 3 3V307.4z" fill="#5c67f7"/><path d="M135.6 307.4V278.8a3 3 0 0 1 3-3h2.600a3 3 0 0 1 3 3V307.4z" fill="#5c67f7"/><path d="M187.7 307.4V260.3a3 3 0 0 1 3-3h2.600a3 3 0 0 1 3 3V307.4z" fill="#5c67f7"/><path d="M239.7 307.4V214.3a3 3 0 0 1 3-3h2.600a3 3 0 0 1 3 3V307.4z" fill="#5c67f7"/><path d="M291.8 307.4V273.5a3 3 0 0 1 3-3h2.600a3 3 0 0 1 3 3V307.4z" fill="#5c67f7"/><path d="M343.8 307.4V249.7a3 3 0 0 1 3-3h2.600a3 3 0 0 1 3 3V307.4z" fill="#5c67f7"/><path d="M395.9 307.4V266.6a3 3 0 0 1 3-3h2.600a3 3 0 0 1 3 3V307.4z" fill="#5c67f7"/><path d="M447.9 307.4V220.7a3 3 0 0 1 3-3h2.600a3 3 0 0 1 3 3V307.4z" fill="#5c67f7"/><path d="M500.0 307.4V241.8a3 3 0 0 1 3-3h2.600a3 3 0 0 1 3 3V307.4z" fill="#5c67f7"/><path d="M552.0 307.4V241.8a3 3 0 0 1 3-3h2.600a3 3 0 0 1 3 3V307.4z" fill="#5c67f7"/><path d="M604.1 307.4V278.8a3 3 0 0 1 3-3h2.600a3 3 0 0 1 3 3V307.4z" fill="#5c67f7"/><path d="M656.2 307.4V226.0a3 3 0 0 1 3-3h2.600a3 3 0 0 1 3 3V307.4z" fill="#5c67f7"/><path d="M87.8 254.6C107.1 254.6 120.6 220.3 139.9 220.3C159.2 220.3 172.7 278.4 192.0 278.4C211.2 278.4 224.7 273.1 244.0 273.1C263.3 273.1 276.8 207.1 296.1 207.1C315.3 207.1 328.9 196.6 348.1 196.6C367.4 196.6 380.9 154.3 400.2 154.3C419.4 154.3 433.0 219.0 452.2 219.0C471.5 219.0 485.0 208.4 504.3 208.4C523.5 208.4 537.1 139.0 556.3 139.0C575.6 139.0 589.1 187.6 608.4 187.6C627.7 187.6 641.2 180.7 660.5 180.7" fill="none" stroke="#e354d4" stroke-opacity=".18" stroke-width="2" transform="translate(0,5)"/><path d="M87.8 254.6C107.1 254.6 120.6 220.3 139.9 220.3C159.2 220.3 172.7 278.4 192.0 278.4C211.2 278.4 224.7 273.1 244.0 273.1C263.3 273.1 276.8 207.1 296.1 207.1C315.3 207.1 328.9 196.6 348.1 196.6C367.4 196.6 380.9 154.3 400.2 154.3C419.4 154.3 433.0 219.0 452.2 219.0C471.5 219.0 485.0 208.4 504.3 208.4C523.5 208.4 537.1 139.0 556.3 139.0C575.6 139.0 589.1 187.6 608.4 187.6C627.7 187.6 641.2 180.7 660.5 180.7" fill="none" stroke="#e354d4" stroke-width="1.800"/><text x="87.8" y="335.2" text-anchor="middle" font-size="11.500" font-weight="700" fill="#7987a2" font-family="Liberation Sans,sans-serif">Jan</text><text x="139.9" y="335.2" text-anchor="middle" font-size="11.500" font-weight="700" fill="#7987a2" font-family="Liberation Sans,sans-serif">Feb</text><text x="192.0" y="335.2" text-anchor="middle" font-size="11.500" font-weight="700" fill="#7987a2" font-family="Liberation Sans,sans-serif">Mar</text><text x="244.0" y="335.2" text-anchor="middle" font-size="11.500" font-weight="700" fill="#7987a2" font-family="Liberation Sans,sans-serif">Apr</text><text x="296.1" y="335.2" text-anchor="middle" font-size="11.500" font-weight="700" fill="#7987a2" font-family="Liberation Sans,sans-serif">May</text><text x="348.1" y="335.2" text-anchor="middle" font-size="11.500" font-weight="700" fill="#7987a2" font-family="Liberation Sans,sans-serif">Jun</text><text x="400.2" y="335.2" text-anchor="middle" font-size="11.500" font-weight="700" fill="#7987a2" font-family="Liberation Sans,sans-serif">Jul</text><text x="452.2" y="335.2" text-anchor="middle" font-size="11.500" font-weight="700" fill="#7987a2" font-family="Liberation Sans,sans-serif">Agu</text><text x="504.3" y="335.2" text-anchor="middle" font-size="11.500" font-weight="700" fill="#7987a2" font-family="Liberation Sans,sans-serif">Sep</text><text x="556.3" y="335.2" text-anchor="middle" font-size="11.500" font-weight="700" fill="#7987a2" font-family="Liberation Sans,sans-serif">Oct</text><text x="608.4" y="335.2" text-anchor="middle" font-size="11.500" font-weight="700" fill="#7987a2" font-family="Liberation Sans,sans-serif">Nov</text><text x="660.5" y="335.2" text-anchor="middle" font-size="11.500" font-weight="700" fill="#7987a2" font-family="Liberation Sans,sans-serif">Dec</text></svg>
<div class="b" style="left:279.7px;top:364.4px;width:7.0px;height:7.0px;background:#5c67f7;border-radius:50%"></div>
<span class="x " style="top:359.9px;font-size:13px;line-height:16px;letter-spacing:0.1px;left:295.7px;direction:ltr;">Growth</span>
<div class="b" style="left:349.8px;top:364.4px;width:7.0px;height:7.0px;background:#eceef2;border-radius:50%"></div>
<span class="x " style="top:359.9px;font-size:13px;line-height:16px;letter-spacing:0.1px;left:364.8px;direction:ltr;">Profit</span>
<div class="b" style="left:405.5px;top:364.4px;width:7.0px;height:7.0px;background:#e354d4;border-radius:50%"></div>
<span class="x " style="top:359.9px;font-size:13px;line-height:16px;letter-spacing:0.1px;left:420.5px;direction:ltr;">Sales</span>
</div>
<div class="card" style="left:21.6px;top:747.6px;width:391.0px;height:458.2px;">
<div class="ct" style="top:18.7px;right:16.1px">Overall Statistics</div>
<div class="btnl" style="left:16.2px;top:17.0px;width:65.9px;height:26.9px;line-height:26.9px">View All</div>
<div class="b" style="left:16.2px;top:58.8px;width:358.7px;height:383.5px;border:1px solid #eef1f6;border-radius:6px"></div>
<span class="x " style="top:76.2px;font-size:13.5px;line-height:17px;color:#6e829f;right:32.4px;">Total Expenses</span>
<span class="x " style="top:98.0px;font-size:17.3px;line-height:22px;letter-spacing:0px;right:32.4px;-webkit-text-stroke:.3px #212b37;">$134,032</span>
<span class="x " style="top:103.6px;font-size:10.8px;line-height:14px;color:#21ce9e;letter-spacing:0px;right:115.0px;direction:ltr;">0.45%<svg class="tr" viewBox="0 0 14 10"><path d="M1 8.500l4-4 2.500 2.500L13 1.500M9 1.500h4v4"/></svg></span>
<svg style="position:absolute;left:0;top:0;width:200px;height:458.2px;direction:ltr;pointer-events:none"><path d="M33.8 103.0C37.1 103.0 40.6 80.6 44.0 80.6C47.7 80.6 51.5 96.6 55.2 96.6C58.9 96.6 62.7 78.6 66.4 78.6C70.1 78.6 73.9 83.8 77.6 83.8C81.3 83.8 85.1 81.2 88.8 81.2C92.5 81.2 96.3 93.4 100.0 93.4C103.7 93.4 107.5 86.0 111.2 86.0C114.9 86.0 118.7 73.8 122.4 73.8C125.9 73.8 129.5 95.6 133.0 95.6" fill="none" stroke="#5c67f7" stroke-width="2.100" stroke-linejoin="round"/></svg>
<span class="x " style="top:106.2px;font-size:12.8px;line-height:16px;letter-spacing:0.2px;left:35.0px;direction:ltr;"><svg style="width:9px;height:8px;margin-right:8px;fill:none;stroke:#212b37;stroke-width:1.300" viewBox="0 0 9 8"><path d="M0 4h8M5 1l3 3-3 3"/></svg>See more</span>
<div class="b" style="left:16.2px;top:136.6px;width:358.7px;height:1.0px;background:#eef1f6"></div>
<span class="x " style="top:152.5px;font-size:13.5px;line-height:17px;color:#6e829f;right:32.4px;">General Leads</span>
<span class="x " style="top:174.3px;font-size:17.3px;line-height:22px;letter-spacing:0px;right:32.4px;-webkit-text-stroke:.3px #212b37;">74,354</span>
<span class="x " style="top:180.0px;font-size:10.8px;line-height:14px;color:#fb4242;letter-spacing:0px;right:100.8px;direction:ltr;">3.84%<svg class="tr" viewBox="0 0 14 10"><path d="M1 1.500l4 4 2.500-2.500L13 8.500M9 8.500h4v-4"/></svg></span>
<svg style="position:absolute;left:0;top:0;width:200px;height:458.2px;direction:ltr;pointer-events:none"><path d="M33.8 179.9C37.1 179.9 40.6 161.4 44.0 161.4C47.7 161.4 51.5 165.2 55.2 165.2C58.9 165.2 62.7 156.6 66.4 156.6C70.1 156.6 73.9 166.2 77.6 166.2C81.3 166.2 85.1 157.5 88.8 157.5C92.5 157.5 96.3 174.2 100.0 174.2C103.7 174.2 107.5 156.6 111.2 156.6C114.9 156.6 118.7 150.8 122.4 150.8C125.9 150.8 129.5 166.2 133.0 166.2" fill="none" stroke="#e354d4" stroke-width="2.100" stroke-linejoin="round"/></svg>
<span class="x " style="top:182.6px;font-size:12.8px;line-height:16px;letter-spacing:0.2px;left:35.0px;direction:ltr;"><svg style="width:9px;height:8px;margin-right:8px;fill:none;stroke:#212b37;stroke-width:1.300" viewBox="0 0 9 8"><path d="M0 4h8M5 1l3 3-3 3"/></svg>See more</span>
<div class="b" style="left:16.2px;top:212.9px;width:358.7px;height:1.0px;background:#eef1f6"></div>
<span class="x " style="top:228.9px;font-size:13.5px;line-height:17px;color:#6e829f;right:32.4px;">Churn Rate</span>
<span class="x " style="top:250.6px;font-size:17.3px;line-height:22px;letter-spacing:0px;right:32.4px;-webkit-text-stroke:.3px #212b37;">6.02%</span>
<span class="x " style="top:256.3px;font-size:10.8px;line-height:14px;color:#21ce9e;letter-spacing:0px;right:93.1px;direction:ltr;">0.72%<svg class="tr" viewBox="0 0 14 10"><path d="M1 8.500l4-4 2.500 2.500L13 1.500M9 1.500h4v4"/></svg></span>
<svg style="position:absolute;left:0;top:0;width:200px;height:458.2px;direction:ltr;pointer-events:none"><path d="M33.8 255.6C37.1 255.6 40.6 247.0 44.0 247.0C47.7 247.0 51.5 230.0 55.2 230.0C58.9 230.0 62.7 245.4 66.4 245.4C70.1 245.4 73.9 241.8 77.6 241.8C81.3 241.8 85.1 235.1 88.8 235.1C92.5 235.1 96.3 252.7 100.0 252.7C103.7 252.7 107.5 226.2 111.2 226.2C114.9 226.2 118.7 233.8 122.4 233.8C125.9 233.8 129.5 243.8 133.0 243.8" fill="none" stroke="#fe549b" stroke-width="2.100" stroke-linejoin="round"/></svg>
<span class="x " style="top:258.9px;font-size:12.8px;line-height:16px;letter-spacing:0.2px;left:35.0px;direction:ltr;"><svg style="width:9px;height:8px;margin-right:8px;fill:none;stroke:#212b37;stroke-width:1.300" viewBox="0 0 9 8"><path d="M0 4h8M5 1l3 3-3 3"/></svg>See more</span>
<div class="b" style="left:16.2px;top:289.2px;width:358.7px;height:1.0px;background:#eef1f6"></div>
<span class="x " style="top:305.2px;font-size:13.5px;line-height:17px;color:#6e829f;right:32.4px;">New Users</span>
<span class="x " style="top:326.9px;font-size:17.3px;line-height:22px;letter-spacing:0px;right:32.4px;-webkit-text-stroke:.3px #212b37;">7,893</span>
<span class="x " style="top:332.6px;font-size:10.8px;line-height:14px;color:#21ce9e;letter-spacing:0px;right:91.4px;direction:ltr;">11.05%<svg class="tr" viewBox="0 0 14 10"><path d="M1 8.500l4-4 2.500 2.500L13 1.500M9 1.500h4v4"/></svg></span>
<svg style="position:absolute;left:0;top:0;width:200px;height:458.2px;direction:ltr;pointer-events:none"><path d="M33.8 331.6C37.1 331.6 40.6 323.0 44.0 323.0C47.7 323.0 51.5 316.6 55.2 316.6C58.9 316.6 62.7 309.2 66.4 309.2C70.1 309.2 73.9 323.9 77.6 323.9C81.3 323.9 85.1 316.2 88.8 316.2C92.5 316.2 96.3 325.2 100.0 325.2C103.7 325.2 107.5 316.2 111.2 316.2C114.9 316.2 118.7 302.5 122.4 302.5C125.9 302.5 129.5 320.7 133.0 320.7" fill="none" stroke="#ff8e6f" stroke-width="2.100" stroke-linejoin="round"/></svg>
<span class="x " style="top:335.2px;font-size:12.8px;line-height:16px;letter-spacing:0.2px;left:35.0px;direction:ltr;"><svg style="width:9px;height:8px;margin-right:8px;fill:none;stroke:#212b37;stroke-width:1.300" viewBox="0 0 9 8"><path d="M0 4h8M5 1l3 3-3 3"/></svg>See more</span>
<div class="b" style="left:16.2px;top:365.5px;width:358.7px;height:1.0px;background:#eef1f6"></div>
<span class="x " style="top:381.5px;font-size:13.5px;line-height:17px;color:#6e829f;right:32.4px;">Returning Users</span>
<span class="x " style="top:403.2px;font-size:17.3px;line-height:22px;letter-spacing:0px;right:32.4px;-webkit-text-stroke:.3px #212b37;">3,258</span>
<span class="x " style="top:408.9px;font-size:10.8px;line-height:14px;color:#21ce9e;letter-spacing:0px;right:91.4px;direction:ltr;">1.69%<svg class="tr" viewBox="0 0 14 10"><path d="M1 8.500l4-4 2.500 2.500L13 1.500M9 1.500h4v4"/></svg></span>
<svg style="position:absolute;left:0;top:0;width:200px;height:458.2px;direction:ltr;pointer-events:none"><path d="M33.8 407.3C37.1 407.3 40.6 398.0 44.0 398.0C47.7 398.0 51.5 394.2 55.2 394.2C58.9 394.2 62.7 389.7 66.4 389.7C70.1 389.7 73.9 378.2 77.6 378.2C81.3 378.2 85.1 394.5 88.8 394.5C92.5 394.5 96.3 384.2 100.0 384.2C103.7 384.2 107.5 397.7 111.2 397.7C114.9 397.7 118.7 392.9 122.4 392.9C125.9 392.9 129.5 401.5 133.0 401.5" fill="none" stroke="#9e5cf7" stroke-width="2.100" stroke-linejoin="round"/></svg>
<span class="x " style="top:411.5px;font-size:12.8px;line-height:16px;letter-spacing:0.2px;left:35.0px;direction:ltr;"><svg style="width:9px;height:8px;margin-right:8px;fill:none;stroke:#212b37;stroke-width:1.300" viewBox="0 0 9 8"><path d="M0 4h8M5 1l3 3-3 3"/></svg>See more</span>
</div>
<div class="card" style="left:435.8px;top:747.6px;width:390.7px;height:455.8px;">
<div class="ct" style="top:18.7px;right:16.6px">Sales Statistics</div>
<div class="btnl" style="left:15.6px;top:17.0px;width:74.6px;height:26.9px;line-height:26.9px">Sort By<svg class="chv" viewBox="0 0 10 10"><path d="M2 3.500l3 3 3-3"/></svg></div>
<div class="b" style="left:15.6px;top:67.4px;width:110.2px;height:75.6px;background:#f6f7f9;border-radius:5px"></div>
<span class="x " style="top:86.1px;font-size:13.9px;line-height:17px;letter-spacing:0.2px;left:-229.3px;width:600px;text-align:center;">Last Year</span>
<span class="x " style="top:106.7px;font-size:13.5px;line-height:17px;color:#fb4242;letter-spacing:0.1px;left:-229.3px;width:600px;text-align:center;">3,41,622</span>
<div class="b" style="left:135.6px;top:67.4px;width:109.2px;height:75.6px;background:#f6f7f9;border-radius:5px"></div>
<span class="x " style="top:86.1px;font-size:13.9px;line-height:17px;letter-spacing:0.2px;left:-109.8px;width:600px;text-align:center;">This Year</span>
<span class="x " style="top:106.7px;font-size:13.5px;line-height:17px;color:#21ce9e;letter-spacing:0.1px;left:-109.8px;width:600px;text-align:center;">4,25,349</span>
<div class="b" style="left:255.4px;top:67.4px;width:118.8px;height:75.6px;background:#f6f7f9;border-radius:5px"></div>
<span class="x " style="top:86.1px;font-size:13.9px;line-height:17px;letter-spacing:0.2px;left:14.8px;width:600px;text-align:center;">Total Sales</span>
<span class="x " style="top:106.7px;font-size:13.5px;line-height:17px;letter-spacing:0.1px;left:14.8px;width:600px;text-align:center;-webkit-text-stroke:.3px #212b37;">$3.478B</span>
<svg style="position:absolute;left:0;top:0;width:390.7px;height:455.8px;direction:ltr"><path d="M65.8 362.6H356.2" stroke="#e9edf3" stroke-width="1" stroke-dasharray="3 3" fill="none"/><text x="51.8" y="366.1" text-anchor="end" font-size="11" font-weight="700" fill="#7987a2" font-family="Liberation Sans,sans-serif">0</text><path d="M65.8 318.7H356.2" stroke="#e9edf3" stroke-width="1" stroke-dasharray="3 3" fill="none"/><text x="51.8" y="322.2" text-anchor="end" font-size="11" font-weight="700" fill="#7987a2" font-family="Liberation Sans,sans-serif">80</text><path d="M65.8 274.8H356.2" stroke="#e9edf3" stroke-width="1" stroke-dasharray="3 3" fill="none"/><text x="51.8" y="278.3" text-anchor="end" font-size="11" font-weight="700" fill="#7987a2" font-family="Liberation Sans,sans-serif">160</text><path d="M65.8 230.9H356.2" stroke="#e9edf3" stroke-width="1" stroke-dasharray="3 3" fill="none"/><text x="51.8" y="234.4" text-anchor="end" font-size="11" font-weight="700" fill="#7987a2" font-family="Liberation Sans,sans-serif">240</text><path d="M65.8 187.0H356.2" stroke="#e9edf3" stroke-width="1" stroke-dasharray="3 3" fill="none"/><text x="51.8" y="190.5" text-anchor="end" font-size="11" font-weight="700" fill="#7987a2" font-family="Liberation Sans,sans-serif">320</text><rect x="75.1" y="250.6" width="12" height="46.1" rx="4" fill="#ff8e6f"/><rect x="75.1" y="314.4" width="12" height="48.3" rx="4" fill="#5c67f7"/><rect x="75.1" y="290.7" width="12" height="29.6" fill="#e354d4"/><text x="81.1" y="389.7" text-anchor="middle" font-size="12.500" fill="#66768f" font-family="Liberation Sans,sans-serif">Mon</text><rect x="117.7" y="247.3" width="12" height="59.8" rx="4" fill="#ff8e6f"/><rect x="117.7" y="308.9" width="12" height="53.8" rx="4" fill="#5c67f7"/><rect x="117.7" y="301.2" width="12" height="13.7" fill="#e354d4"/><text x="123.7" y="389.7" text-anchor="middle" font-size="12.500" fill="#66768f" font-family="Liberation Sans,sans-serif">Tue</text><rect x="160.2" y="278.6" width="12" height="45.5" rx="4" fill="#ff8e6f"/><rect x="160.2" y="325.3" width="12" height="37.3" rx="4" fill="#5c67f7"/><rect x="160.2" y="318.2" width="12" height="13.2" fill="#e354d4"/><text x="166.2" y="389.7" text-anchor="middle" font-size="12.500" fill="#66768f" font-family="Liberation Sans,sans-serif">Wed</text><rect x="202.8" y="197.9" width="12" height="35.1" rx="4" fill="#ff8e6f"/><rect x="202.8" y="311.1" width="12" height="51.6" rx="4" fill="#5c67f7"/><rect x="202.8" y="227.0" width="12" height="90.0" fill="#e354d4"/><text x="208.8" y="389.7" text-anchor="middle" font-size="12.500" fill="#66768f" font-family="Liberation Sans,sans-serif">Thu</text><rect x="245.3" y="217.2" width="12" height="46.1" rx="4" fill="#ff8e6f"/><rect x="245.3" y="291.9" width="12" height="70.8" rx="4" fill="#5c67f7"/><rect x="245.3" y="257.2" width="12" height="40.6" fill="#e354d4"/><text x="251.3" y="389.7" text-anchor="middle" font-size="12.500" fill="#66768f" font-family="Liberation Sans,sans-serif">Fri</text><rect x="287.9" y="210.6" width="12" height="34.0" rx="4" fill="#ff8e6f"/><rect x="287.9" y="267.7" width="12" height="94.9" rx="4" fill="#5c67f7"/><rect x="287.9" y="238.6" width="12" height="35.1" fill="#e354d4"/><text x="293.9" y="389.7" text-anchor="middle" font-size="12.500" fill="#66768f" font-family="Liberation Sans,sans-serif">Sat</text><rect x="330.4" y="223.7" width="12" height="45.0" rx="4" fill="#ff8e6f"/><rect x="330.4" y="295.2" width="12" height="67.5" rx="4" fill="#5c67f7"/><rect x="330.4" y="262.7" width="12" height="38.4" fill="#e354d4"/><text x="336.4" y="389.7" text-anchor="middle" font-size="12.500" fill="#66768f" font-family="Liberation Sans,sans-serif">Sun</text></svg>
<div class="b" style="left:92.0px;top:408.1px;width:7.0px;height:7.0px;background:#5c67f7;border-radius:2.500px"></div>
<span class="x " style="top:403.6px;font-size:13.2px;line-height:16px;letter-spacing:0px;left:108.0px;direction:ltr;">Total</span>
<div class="b" style="left:148.2px;top:408.1px;width:7.0px;height:7.0px;background:#e354d4;border-radius:2.500px"></div>
<span class="x " style="top:403.6px;font-size:13.2px;line-height:16px;letter-spacing:0px;left:164.2px;direction:ltr;">This Year</span>
<div class="b" style="left:229.3px;top:408.1px;width:7.0px;height:7.0px;background:#ff8e6f;border-radius:2.500px"></div>
<span class="x " style="top:403.6px;font-size:13.2px;line-height:16px;letter-spacing:0px;left:244.3px;direction:ltr;">Last Year</span>
</div>
<div class="card" style="left:850.6px;top:747.6px;width:390.2px;height:455.8px;">
<div class="ct" style="top:18.7px;right:16.6px">Recent Activity</div>
<div class="btnl" style="left:16.3px;top:17.0px;width:63.6px;height:26.9px;line-height:26.9px">View All</div>
<div class="b" style="left:308.4px;top:82.8px;width:1.0px;height:316.8px;background:#eef1f6"></div>
<span class="x " style="top:68.7px;font-size:15.3px;line-height:19px;letter-spacing:0.2px;right:108.2px;-webkit-text-stroke:.4px #212b37;">John Doe</span>
<div class="b" style="left:304.7px;top:75.1px;width:7.9px;height:7.9px;background:#5c67f7;border-radius:50%;box-shadow:0 0 0 3px #fff,0 0 0 4px #5c67f722"></div>
<span class="x " style="top:70.7px;font-size:12.6px;line-height:16px;color:#4a5668;letter-spacing:0.1px;right:15.6px;">12 Hrs</span>
<span class="x " style="top:89.9px;font-size:14.4px;line-height:18px;color:#6e829f;letter-spacing:0.25px;right:108.2px;">Updated the product description for</span>
<span class="x " style="top:110.3px;font-size:14.4px;line-height:18px;color:#6e829f;letter-spacing:0.25px;right:108.2px;"><span style="color:#5c67f7">Widget X</span>.</span>
<span class="x " style="top:146.5px;font-size:15.3px;line-height:19px;letter-spacing:0.2px;right:108.2px;-webkit-text-stroke:.4px #212b37;">Jane Smith</span>
<div class="b" style="left:304.7px;top:152.9px;width:7.9px;height:7.9px;background:#e354d4;border-radius:50%;box-shadow:0 0 0 3px #fff,0 0 0 4px #e354d422"></div>
<span class="x " style="top:148.5px;font-size:12.6px;line-height:16px;color:#4a5668;letter-spacing:0.1px;right:15.6px;">4:32pm</span>
<span class="x " style="top:167.6px;font-size:14.4px;line-height:18px;color:#6e829f;letter-spacing:0.25px;right:108.2px;">added a <b style="color:#212b37;font-weight:700">new user</b> with username</span>
<span class="x " style="top:188.0px;font-size:14.4px;line-height:18px;color:#6e829f;letter-spacing:0.25px;right:108.2px;"><span style="color:#e354d4">janesmith89</span>.</span>
<span class="x " style="top:224.3px;font-size:15.3px;line-height:19px;letter-spacing:0.2px;right:108.2px;-webkit-text-stroke:.4px #212b37;">Michael Brown</span>
<div class="b" style="left:304.7px;top:230.6px;width:7.9px;height:7.9px;background:#fe549b;border-radius:50%;box-shadow:0 0 0 3px #fff,0 0 0 4px #fe549b22"></div>
<span class="x " style="top:226.2px;font-size:12.6px;line-height:16px;color:#4a5668;letter-spacing:0.1px;right:15.6px;">11:45am</span>
<span class="x " style="top:245.4px;font-size:14.4px;line-height:18px;color:#6e829f;letter-spacing:0.25px;right:108.2px;">Changed the status of order <u style="color:#212b37">#12345</u> to</span>
<span class="x " style="top:265.8px;font-size:14.4px;line-height:18px;color:#6e829f;letter-spacing:0.25px;right:108.2px;"><span style="color:#fe549b">Shipped</span>.</span>
<span class="x " style="top:302.0px;font-size:15.3px;line-height:19px;letter-spacing:0.2px;right:108.2px;-webkit-text-stroke:.4px #212b37;">David Wilson</span>
<div class="b" style="left:304.7px;top:308.4px;width:7.9px;height:7.9px;background:#ff8e6f;border-radius:50%;box-shadow:0 0 0 3px #fff,0 0 0 4px #ff8e6f22"></div>
<span class="x " style="top:304.0px;font-size:12.6px;line-height:16px;color:#4a5668;letter-spacing:0.1px;right:15.6px;">9:27am</span>
<span class="x " style="top:323.2px;font-size:14.4px;line-height:18px;color:#6e829f;letter-spacing:0.25px;right:108.2px;">added <span style="color:#ff8e6f">John Smith</span> to academy group</span>
<span class="x " style="top:343.6px;font-size:14.4px;line-height:18px;color:#6e829f;letter-spacing:0.25px;right:108.2px;"><span style="color:#6e829f">this day</span>.</span>
<span class="x " style="top:379.8px;font-size:15.3px;line-height:19px;letter-spacing:0.2px;right:108.2px;-webkit-text-stroke:.4px #212b37;">Robert Jackson</span>
<div class="b" style="left:304.7px;top:386.2px;width:7.9px;height:7.9px;background:#9e5cf7;border-radius:50%;box-shadow:0 0 0 3px #fff,0 0 0 4px #9e5cf722"></div>
<span class="x " style="top:381.8px;font-size:12.6px;line-height:16px;color:#4a5668;letter-spacing:0.1px;right:15.6px;">8:56pm</span>
<span class="x " style="top:400.9px;font-size:14.4px;line-height:18px;color:#6e829f;letter-spacing:0.25px;right:108.2px;">added a comment to the task <span style="color:#9e5cf7">Update</span></span>
<span class="x " style="top:421.3px;font-size:14.4px;line-height:18px;color:#6e829f;letter-spacing:0.25px;right:108.2px;"><span style="color:#9e5cf7">website layout</span>.</span>
</div>
<div class="card" style="left:1264.3px;top:747.6px;width:391.9px;height:458.2px;overflow:hidden">
<div class="ct" style="top:18.7px;right:17.3px">Latest Transactions</div>
<div class="btnl" style="left:18.2px;top:17.0px;width:79.0px;height:26.9px;line-height:26.9px"><svg style="width:8px;height:7px;margin-left:3px;fill:none;stroke:#6e829f;stroke-width:1.200" viewBox="0 0 9 8"><path d="M0 4h8M5 1l3 3-3 3"/></svg>View All</div>
<span class="x " style="top:64.8px;font-size:15px;line-height:19px;letter-spacing:0.2px;right:303.4px;-webkit-text-stroke:.25px #212b37;">Status</span>
<span class="x " style="top:64.8px;font-size:15px;line-height:19px;letter-spacing:0.2px;right:218.2px;-webkit-text-stroke:.25px #212b37;">Price</span>
<span class="x " style="top:64.8px;font-size:15px;line-height:19px;letter-spacing:0.2px;right:17.3px;-webkit-text-stroke:.25px #212b37;">Product</span>
<div class="b" style="left:0.0px;top:100.3px;width:391.9px;height:1.0px;background:#eef1f6"></div>
<div class="b" style="left:28.1px;top:119.8px;width:60.5px;height:18.2px;background:#5c67f7;border-radius:4px;color:#fff;font-size:11.300px;font-weight:700;line-height:18px;text-align:center;letter-spacing:.1px">Success</div>
<span class="x " style="top:119.9px;font-size:14px;line-height:18px;letter-spacing:0.2px;right:218.2px;-webkit-text-stroke:.2px #212b37;">$39.99</span>
<span class="x " style="top:120.4px;font-size:13.7px;line-height:17px;letter-spacing:0.25px;right:52.8px;-webkit-text-stroke:.2px #212b37;">SwiftBuds</span>
<div class="b" style="left:347.8px;top:114.5px;width:29.0px;height:28.8px;background:#6c7cf5;border-radius:5px;overflow:hidden"><i style="position:absolute;left:8px;top:7px;width:14px;height:16px;border-radius:6px;background:#f39a3c"></i></div>
<div class="b" style="left:0.0px;top:158.7px;width:391.9px;height:1.0px;background:#eef1f6"></div>
<div class="b" style="left:28.1px;top:178.1px;width:60.5px;height:18.2px;background:#e354d4;border-radius:4px;color:#fff;font-size:11.300px;font-weight:700;line-height:18px;text-align:center;letter-spacing:.1px">Pending</div>
<span class="x " style="top:178.2px;font-size:14px;line-height:18px;letter-spacing:0.2px;right:218.2px;-webkit-text-stroke:.2px #212b37;">$19.95</span>
<span class="x " style="top:178.7px;font-size:13.7px;line-height:17px;letter-spacing:0.25px;right:52.8px;-webkit-text-stroke:.2px #212b37;">CozyCloud Pillow</span>
<div class="b" style="left:347.8px;top:172.8px;width:29.0px;height:28.8px;background:#f3c5dd;border-radius:5px;overflow:hidden"><i style="position:absolute;left:8px;top:7px;width:14px;height:16px;border-radius:6px;background:#7a9a3a"></i></div>
<div class="b" style="left:0.0px;top:217.1px;width:391.9px;height:1.0px;background:#eef1f6"></div>
<div class="b" style="left:39.8px;top:236.5px;width:48.7px;height:18.2px;background:#fe549b;border-radius:4px;color:#fff;font-size:11.300px;font-weight:700;line-height:18px;text-align:center;letter-spacing:.1px">Failed</div>
<span class="x " style="top:236.6px;font-size:14px;line-height:18px;letter-spacing:0.2px;right:218.2px;-webkit-text-stroke:.2px #212b37;">$9.99</span>
<span class="x " style="top:237.1px;font-size:13.7px;line-height:17px;letter-spacing:0.25px;right:52.8px;-webkit-text-stroke:.2px #212b37;">AquaGrip Bottle</span>
<div class="b" style="left:347.8px;top:231.2px;width:29.0px;height:28.8px;background:#1f2a6b;border-radius:5px;overflow:hidden"><i style="position:absolute;left:8px;top:7px;width:14px;height:16px;border-radius:6px;background:#8fc4ff"></i></div>
<div class="b" style="left:0.0px;top:275.4px;width:391.9px;height:1.0px;background:#eef1f6"></div>
<div class="b" style="left:28.1px;top:294.9px;width:60.5px;height:18.2px;background:#ff8e6f;border-radius:4px;color:#fff;font-size:11.300px;font-weight:700;line-height:18px;text-align:center;letter-spacing:.1px">Success</div>
<span class="x " style="top:295.0px;font-size:14px;line-height:18px;letter-spacing:0.2px;right:218.2px;-webkit-text-stroke:.2px #212b37;">$24.99</span>
<span class="x " style="top:295.5px;font-size:13.7px;line-height:17px;letter-spacing:0.25px;right:52.8px;-webkit-text-stroke:.2px #212b37;">GlowLite Lamp</span>
<div class="b" style="left:347.8px;top:289.6px;width:29.0px;height:28.8px;background:#e2304a;border-radius:5px;overflow:hidden"><i style="position:absolute;left:8px;top:7px;width:14px;height:16px;border-radius:6px;background:#2a2a2a"></i></div>
<div class="b" style="left:0.0px;top:333.8px;width:391.9px;height:1.0px;background:#eef1f6"></div>
<div class="b" style="left:28.1px;top:353.2px;width:60.5px;height:18.2px;background:#9e5cf7;border-radius:4px;color:#fff;font-size:11.300px;font-weight:700;line-height:18px;text-align:center;letter-spacing:.1px">Success</div>
<span class="x " style="top:353.4px;font-size:14px;line-height:18px;letter-spacing:0.2px;right:218.2px;-webkit-text-stroke:.2px #212b37;">$26.45</span>
<span class="x " style="top:353.9px;font-size:13.7px;line-height:17px;letter-spacing:0.25px;right:52.8px;-webkit-text-stroke:.2px #212b37;">Bitvitamin</span>
<div class="b" style="left:347.8px;top:348.0px;width:29.0px;height:28.8px;background:#2c6d7a;border-radius:5px;overflow:hidden"><i style="position:absolute;left:8px;top:7px;width:14px;height:16px;border-radius:6px;background:#d9b36a"></i></div>
<div class="b" style="left:0.0px;top:392.2px;width:391.9px;height:1.0px;background:#eef1f6"></div>
<div class="b" style="left:28.1px;top:411.6px;width:60.5px;height:18.2px;background:#ffc658;border-radius:4px;color:#fff;font-size:11.300px;font-weight:700;line-height:18px;text-align:center;letter-spacing:.1px">Success</div>
<span class="x " style="top:411.7px;font-size:14px;line-height:18px;letter-spacing:0.2px;right:218.2px;-webkit-text-stroke:.2px #212b37;">$49.95</span>
<span class="x " style="top:412.2px;font-size:13.7px;line-height:17px;letter-spacing:0.25px;right:52.8px;-webkit-text-stroke:.2px #212b37;">FitTrack</span>
<div class="b" style="left:347.8px;top:406.3px;width:29.0px;height:28.8px;background:#f79ac0;border-radius:5px;overflow:hidden"><i style="position:absolute;left:8px;top:7px;width:14px;height:16px;border-radius:6px;background:#d2427a"></i></div>
</div>
<div class="card" style="left:21.6px;top:1229.3px;width:391.0px;height:234.7px;border-radius:8px 8px 0 0">
<div class="ct" style="top:18.1px;right:16.1px">Sales By Country</div>
<div class="btnl" style="left:16.2px;top:16.3px;width:65.9px;height:27.4px;line-height:27.4px">View All</div>
<span class="x " style="top:70.2px;font-size:13.5px;line-height:17px;letter-spacing:0.1px;left:16.2px;">31,672</span>
<span class="x " style="top:67.1px;font-size:13.8px;line-height:17px;letter-spacing:0.2px;right:60.5px;-webkit-text-stroke:.2px #212b37;">United States</span>
<div class="b" style="left:345.6px;top:67.9px;width:29.5px;height:29.5px;background:#fafbfc;border:1px solid #f1f3f7;border-radius:5px"><svg viewBox="0 0 18 18" style="position:absolute;left:6px;top:6px;width:18px;height:18px;border-radius:4px"><rect width="18" height="18" fill="#f5f5f7"/><path d="M0 1.500h18M0 4.500h18M0 7.500h18M0 10.500h18M0 13.500h18M0 16.500h18" stroke="#e8566a" stroke-width="1.500"/><rect width="9" height="9" fill="#4b62c4"/></svg></div>
<div class="b" style="left:16.2px;top:94.3px;width:310.7px;height:4.1px;background:#f3f5f9;border-radius:3px"></div>
<div class="b" style="left:48.6px;top:94.3px;width:278.3px;height:4.1px;background:repeating-linear-gradient(135deg,#5c67f7 0 5px,#5c67f7cc 5px 10px);border-radius:3px"></div>
<span class="x " style="top:119.3px;font-size:13.5px;line-height:17px;letter-spacing:0.1px;left:16.2px;">29,557</span>
<span class="x " style="top:116.2px;font-size:13.8px;line-height:17px;letter-spacing:0.2px;right:60.5px;-webkit-text-stroke:.2px #212b37;">Italy</span>
<div class="b" style="left:345.6px;top:117.0px;width:29.5px;height:29.5px;background:#fafbfc;border:1px solid #f1f3f7;border-radius:5px"><svg viewBox="0 0 18 18" style="position:absolute;left:6px;top:6px;width:18px;height:18px;border-radius:4px"><rect width="6" height="18" fill="#3aa655"/><rect x="6" width="6" height="18" fill="#f5f5f7"/><rect x="12" width="6" height="18" fill="#e8474c"/></svg></div>
<div class="b" style="left:16.2px;top:143.4px;width:310.7px;height:4.1px;background:#f3f5f9;border-radius:3px"></div>
<div class="b" style="left:64.8px;top:143.4px;width:262.1px;height:4.1px;background:repeating-linear-gradient(135deg,#e354d4 0 5px,#e354d4cc 5px 10px);border-radius:3px"></div>
<span class="x " style="top:168.4px;font-size:13.5px;line-height:17px;letter-spacing:0.1px;left:16.2px;">24,562</span>
<span class="x " style="top:165.3px;font-size:13.8px;line-height:17px;letter-spacing:0.2px;right:60.5px;-webkit-text-stroke:.2px #212b37;">Spain</span>
<div class="b" style="left:345.6px;top:166.1px;width:29.5px;height:29.5px;background:#fafbfc;border:1px solid #f1f3f7;border-radius:5px"><svg viewBox="0 0 18 18" style="position:absolute;left:6px;top:6px;width:18px;height:18px;border-radius:4px"><rect width="18" height="18" fill="#e8474c"/><rect y="4.500" width="18" height="9" fill="#f7c948"/></svg></div>
<div class="b" style="left:16.2px;top:192.5px;width:310.7px;height:4.1px;background:#f3f5f9;border-radius:3px"></div>
<div class="b" style="left:81.0px;top:192.5px;width:245.9px;height:4.1px;background:repeating-linear-gradient(135deg,#fe549b 0 5px,#fe549bcc 5px 10px);border-radius:3px"></div>
</div>
<div class="card" style="left:436.8px;top:1229.3px;width:1219.2px;height:234.7px;border-radius:8px 8px 0 0">
<div class="ct" style="top:18.1px;right:17.0px">Recent Orders</div>
<div class="btnl" style="left:14.6px;top:16.3px;width:64.8px;height:27.4px;line-height:27.4px">View All</div>
<span class="x " style="top:66.1px;font-size:15.2px;line-height:19px;letter-spacing:0.2px;right:1106.2px;-webkit-text-stroke:.25px #212b37;">Actions</span>
<span class="x " style="top:66.1px;font-size:15.2px;line-height:19px;letter-spacing:0.2px;right:950.6px;-webkit-text-stroke:.25px #212b37;">Date Ordered</span>
<span class="x " style="top:66.1px;font-size:15.2px;line-height:19px;letter-spacing:0.2px;right:816.2px;-webkit-text-stroke:.25px #212b37;">Status</span>
<span class="x " style="top:66.1px;font-size:15.2px;line-height:19px;letter-spacing:0.2px;right:719.0px;-webkit-text-stroke:.25px #212b37;">Amount</span>
<span class="x " style="top:66.1px;font-size:15.2px;line-height:19px;letter-spacing:0.2px;right:604.6px;-webkit-text-stroke:.25px #212b37;">Quantity</span>
<span class="x " style="top:66.1px;font-size:15.2px;line-height:19px;letter-spacing:0.2px;right:369.1px;-webkit-text-stroke:.25px #212b37;">Product</span>
<span class="x " style="top:66.1px;font-size:15.2px;line-height:19px;letter-spacing:0.2px;right:75.4px;-webkit-text-stroke:.25px #212b37;">Customer</span>
<div class="b" style="left:1181.8px;top:67.9px;width:15.1px;height:15.1px;border:1px solid #dfe4ee;border-radius:3px;background:#fff"></div>
<div class="b" style="left:0.0px;top:100.1px;width:1219.2px;height:1.0px;background:#eef1f6"></div>
<div class="b" style="left:0.0px;top:162.7px;width:1219.2px;height:1.0px;background:#eef1f6"></div>
<div class="b" style="left:1181.8px;top:125.2px;width:15.1px;height:15.1px;background:#5c67f7;border-radius:3px"><svg viewBox="0 0 10 10" style="position:absolute;left:2.500px;top:2.500px;width:10px;height:10px;fill:none;stroke:#fff;stroke-width:1.800"><path d="M1.500 5l2.500 2.500 4.500-5"/></svg></div>
<div class="b" style="left:1115.8px;top:117.8px;width:28.3px;height:29.8px;background:#fba9a6;border-radius:5px;overflow:hidden"><i style="position:absolute;left:6px;top:3px;width:16px;height:15px;border-radius:50%;background:#4a3326"></i><i style="position:absolute;left:10px;top:8px;width:9px;height:10px;border-radius:50%;background:#f3c9a8"></i><i style="position:absolute;left:3px;top:19px;width:22px;height:14px;border-radius:8px 8px 0 0;background:#4a3326"></i></div>
<span class="x " style="top:115.6px;font-size:13.8px;line-height:17px;letter-spacing:0.2px;right:119.5px;-webkit-text-stroke:.2px #212b37;">Elena smith</span>
<span class="x " style="top:134.1px;font-size:12.3px;line-height:15px;color:#7585a3;letter-spacing:0.1px;right:119.5px;">elenasmith387@gmail.com</span>
<span class="x " style="top:123.7px;font-size:14.1px;line-height:18px;color:#3b4758;letter-spacing:0.25px;right:369.1px;">All-Purpose Cleaner</span>
<span class="x " style="top:124.2px;font-size:13.3px;line-height:17px;color:#3b4758;letter-spacing:0px;left:284.4px;width:600px;text-align:center;">3</span>
<span class="x " style="top:124.2px;font-size:13.3px;line-height:17px;color:#3b4758;letter-spacing:0.1px;right:728.6px;">$9.99</span>
<div class="b" style="left:326.9px;top:123.1px;width:73.4px;height:19.2px;background:#5c67f71f;border-radius:4px;color:#5c67f7;font-size:11.300px;letter-spacing:.1px;-webkit-text-stroke:.25px #5c67f7;line-height:19px;text-align:center">In Progress</div>
<span class="x " style="top:124.2px;font-size:13.3px;line-height:17px;color:#3b4758;letter-spacing:0.1px;right:950.6px;">03,Sep 2024</span>
<div class="b" style="left:85.9px;top:119.3px;width:27.1px;height:26.9px;background:#21ce9e22;border-radius:5px"><svg viewBox="0 0 12 12" style="position:absolute;left:8px;top:8px;width:11px;height:11px;fill:#21ce9e"><path d="M1 11l.6-3L8.500 1.100l2.400 2.400L4 10.400z"/></svg></div>
<div class="b" style="left:48.2px;top:119.3px;width:26.9px;height:26.9px;background:#fb42421f;border-radius:5px"><svg viewBox="0 0 12 12" style="position:absolute;left:7.500px;top:7.500px;width:12px;height:12px;fill:none;stroke:#fb4242;stroke-width:1.200;stroke-linejoin:round"><path d="M2.600 3.600l.5 6.900h5.800l.5-6.900zM1.500 3.400h9M4.500 3.200V1.600h3v1.600M4.900 5.500v3.200M7.100 5.500v3.200"/></svg></div>
<div class="b" style="left:1181.8px;top:187.8px;width:15.1px;height:15.1px;border:1px solid #dfe4ee;border-radius:3px;background:#fff"></div>
<div class="b" style="left:1115.8px;top:180.5px;width:28.3px;height:29.8px;background:#fb9d9d;border-radius:5px;overflow:hidden"><i style="position:absolute;left:6px;top:3px;width:16px;height:15px;border-radius:50%;background:#1f2430"></i><i style="position:absolute;left:10px;top:8px;width:9px;height:10px;border-radius:50%;background:#f3c9a8"></i><i style="position:absolute;left:3px;top:19px;width:22px;height:14px;border-radius:8px 8px 0 0;background:#1f2430"></i></div>
<span class="x " style="top:178.2px;font-size:13.8px;line-height:17px;letter-spacing:0.2px;right:119.5px;-webkit-text-stroke:.2px #212b37;">Nelson Gold</span>
<span class="x " style="top:196.7px;font-size:12.3px;line-height:15px;color:#7585a3;letter-spacing:0.1px;right:119.5px;">noahrussell556@gmail.com</span>
<span class="x " style="top:186.4px;font-size:14.1px;line-height:18px;color:#3b4758;letter-spacing:0.25px;right:369.1px;">Kitchen Knife Set</span>
<span class="x " style="top:186.9px;font-size:13.3px;line-height:17px;color:#3b4758;letter-spacing:0px;left:284.4px;width:600px;text-align:center;">4</span>
<span class="x " style="top:186.9px;font-size:13.3px;line-height:17px;color:#3b4758;letter-spacing:0.1px;right:728.6px;">$49.99</span>
<div class="b" style="left:345.1px;top:185.8px;width:55.2px;height:19.2px;background:#e354d41f;border-radius:4px;color:#e354d4;font-size:11.300px;letter-spacing:.1px;-webkit-text-stroke:.25px #e354d4;line-height:19px;text-align:center">Pending</div>
<span class="x " style="top:186.9px;font-size:13.3px;line-height:17px;color:#3b4758;letter-spacing:0.1px;right:950.6px;">26,Jul 2024</span>
<div class="b" style="left:85.9px;top:181.9px;width:27.1px;height:26.9px;background:#21ce9e22;border-radius:5px"><svg viewBox="0 0 12 12" style="position:absolute;left:8px;top:8px;width:11px;height:11px;fill:#21ce9e"><path d="M1 11l.6-3L8.500 1.100l2.400 2.400L4 10.400z"/></svg></div>
<div class="b" style="left:48.2px;top:181.9px;width:26.9px;height:26.9px;background:#fb42421f;border-radius:5px"><svg viewBox="0 0 12 12" style="position:absolute;left:7.500px;top:7.500px;width:12px;height:12px;fill:none;stroke:#fb4242;stroke-width:1.200;stroke-linejoin:round"><path d="M2.600 3.600l.5 6.900h5.800l.5-6.900zM1.500 3.400h9M4.500 3.200V1.600h3v1.600M4.900 5.500v3.200M7.100 5.500v3.200"/></svg></div>
</div>

</div>
</body>
</html>
